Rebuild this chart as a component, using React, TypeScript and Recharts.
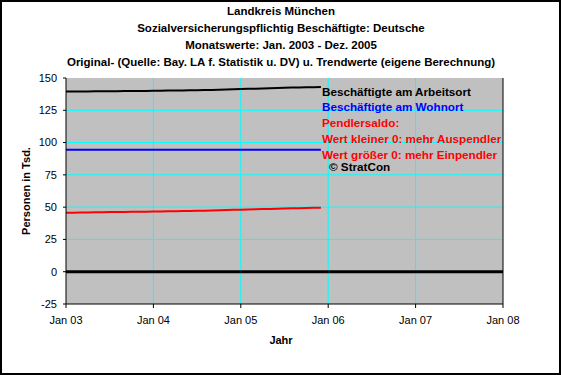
import React from "react";
import {
  LineChart, Line, XAxis, YAxis, CartesianGrid, ReferenceLine,
} from "recharts";

// Monatswerte Jan 2003 .. Dez 2005 (Index 0..35), Werte in Tsd.
const arbeitsort = [
  139.5, 139.5, 139.6, 139.6, 139.7, 139.7, 139.8, 139.8, 139.9, 139.9, 140.0, 140.0,
  140.1, 140.2, 140.3, 140.4, 140.4, 140.5, 140.6, 140.7, 140.8, 140.9, 141.1, 141.3,
  141.4, 141.6, 141.7, 141.9, 142.1, 142.3, 142.5, 142.6, 142.7, 142.8, 142.9, 143.0,
];
const wohnort = [
  94.4, 94.4, 94.4, 94.4, 94.4, 94.4, 94.4, 94.4, 94.4, 94.4, 94.4, 94.4,
  94.4, 94.4, 94.4, 94.4, 94.4, 94.4, 94.4, 94.4, 94.4, 94.4, 94.4, 94.4,
  94.4, 94.4, 94.4, 94.4, 94.4, 94.4, 94.4, 94.4, 94.4, 94.4, 94.4, 94.4,
];
const pendlersaldo = [
  45.6, 45.7, 45.8, 45.9, 46.0, 46.1, 46.2, 46.2, 46.3, 46.4, 46.4, 46.5,
  46.6, 46.7, 46.8, 46.9, 47.0, 47.1, 47.2, 47.3, 47.4, 47.6, 47.7, 47.9,
  48.0, 48.2, 48.3, 48.5, 48.6, 48.8, 48.9, 49.1, 49.2, 49.3, 49.5, 49.6,
];

const yearTicks = [0, 12, 24, 36, 48, 60];
const yearLabels = ["Jan 03", "Jan 04", "Jan 05", "Jan 06", "Jan 07", "Jan 08"];
const monthTicks = Array.from({ length: 61 }, (_, i) => i);
const yTicks = [-25, 0, 25, 50, 75, 100, 125, 150];
const yMinorTicks = [-25, -12.5, 0, 12.5, 25, 37.5, 50, 62.5, 75, 87.5, 100, 112.5, 125, 137.5, 150];
const gridY = [25, 50, 75, 100, 125];
const gridX = [12, 24, 36, 48];

const titles = [
  "Landkreis München",
  "Sozialversicherungspflichtig Beschäftigte: Deutsche",
  "Monatswerte: Jan. 2003 - Dez. 2005",
  "Original- (Quelle: Bay. LA f. Statistik u. DV) u. Trendwerte (eigene Berechnung)",
];

const legendLines = [
  { text: "Beschäftigte am Arbeitsort", color: "#000000" },
  { text: "Beschäftigte am Wohnort", color: "#0000FF" },
  { text: "Pendlersaldo:", color: "#FF0000" },
  { text: "Wert kleiner 0: mehr Auspendler", color: "#FF0000" },
  { text: "Wert größer 0: mehr Einpendler", color: "#FF0000" },
];

const data = arbeitsort.map((v, i) => ({
  m: i,
  arbeitsort: v,
  wohnort: wohnort[i],
  saldo: pendlersaldo[i],
}));

const FONT = "'Liberation Sans', Arial, sans-serif";
const tickStyle = { fill: "#000", fontSize: 11, fontFamily: FONT };

export default function App() {
  return (
    <div style={{ position: "absolute", left: 0, top: 0, width: 561, height: 375, background: "#fff" }}>
      <LineChart
        width={561}
        height={375}
        data={data}
        margin={{ top: 78, right: 18, bottom: 41, left: 26 }}
      >
        <CartesianGrid
          fill="#C0C0C0"
          fillOpacity={1}
          stroke="#00FFFF"
          strokeWidth={1}
          horizontalValues={gridY}
          verticalValues={gridX}
        />
        {/* kleine Teilstriche innen (gespiegelte Achsen ohne Platzbedarf) */}
        <XAxis
          xAxisId="minor"
          dataKey="m"
          type="number"
          domain={[0, 60]}
          ticks={monthTicks}
          tickFormatter={() => ""}
          mirror
          height={0}
          axisLine={false}
          tickSize={2}
          stroke="#000"
        />
        <XAxis
          xAxisId="major"
          dataKey="m"
          type="number"
          domain={[0, 60]}
          ticks={yearTicks}
          tickFormatter={() => ""}
          mirror
          height={0}
          axisLine={false}
          tickSize={3}
          stroke="#000"
        />
        <YAxis
          yAxisId="leftMinor"
          domain={[-25, 150]}
          ticks={yMinorTicks}
          tickFormatter={() => ""}
          mirror
          width={0}
          axisLine={false}
          tickSize={3}
          stroke="#000"
        />
        <YAxis
          yAxisId="rightMinor"
          orientation="right"
          domain={[-25, 150]}
          ticks={yMinorTicks}
          tickFormatter={() => ""}
          mirror
          width={0}
          axisLine={false}
          tickSize={3}
          stroke="#000"
        />
        <XAxis
          dataKey="m"
          type="number"
          domain={[0, 60]}
          ticks={yearTicks}
          tickFormatter={(v) => yearLabels[yearTicks.indexOf(v)] ?? ""}
          tick={tickStyle}
          tickSize={4}
          tickMargin={8}
          height={30}
          stroke="#000"
          allowDataOverflow
        />
        <YAxis
          domain={[-25, 150]}
          ticks={yTicks}
          tick={tickStyle}
          tickSize={3}
          tickMargin={6}
          width={40}
          stroke="#000"
          allowDataOverflow
        />
        <YAxis
          yAxisId="right"
          orientation="right"
          domain={[-25, 150]}
          ticks={yTicks}
          tick={tickStyle}
          tickSize={3}
          tickMargin={3}
          width={40}
          stroke="#000"
        />
        <ReferenceLine y={0} stroke="#000" strokeWidth={3} />
        <Line dataKey="arbeitsort" stroke="#000000" strokeWidth={2} dot={false} isAnimationActive={false} />
        <Line dataKey="wohnort" stroke="#0000FF" strokeWidth={2} dot={false} isAnimationActive={false} />
        <Line dataKey="saldo" stroke="#FF0000" strokeWidth={2} dot={false} isAnimationActive={false} />
      </LineChart>

      <svg
        width={561}
        height={375}
        style={{ position: "absolute", left: 0, top: 0, pointerEvents: "none" }}
        fontFamily={FONT}
      >
        {titles.map((t, i) => (
          <text key={i} x={281} y={14.5 + i * 17} textAnchor="middle" fontSize={11.5} fontWeight="bold" fill="#000">
            {t}
          </text>
        ))}
        {legendLines.map((l, i) => (
          <text key={i} x={322} y={95.5 + i * 15.8} fontSize={11.7} fontWeight="bold" fill={l.color}>
            {l.text}
          </text>
        ))}
        <text x={329} y={170.5} fontSize={11.7} fontWeight="bold" fill="#000">© StratCon</text>
        <text x={30} y={191} transform="rotate(-90 30 191)" textAnchor="middle" fontSize={11} fontWeight="bold" fill="#000">
          Personen in Tsd.
        </text>
        <text x={281} y={344} textAnchor="middle" fontSize={11} fontWeight="bold" fill="#000">Jahr</text>
        <rect x={1} y={1} width={559} height={373} fill="none" stroke="#000" strokeWidth={2} />
      </svg>
    </div>
  );
}
